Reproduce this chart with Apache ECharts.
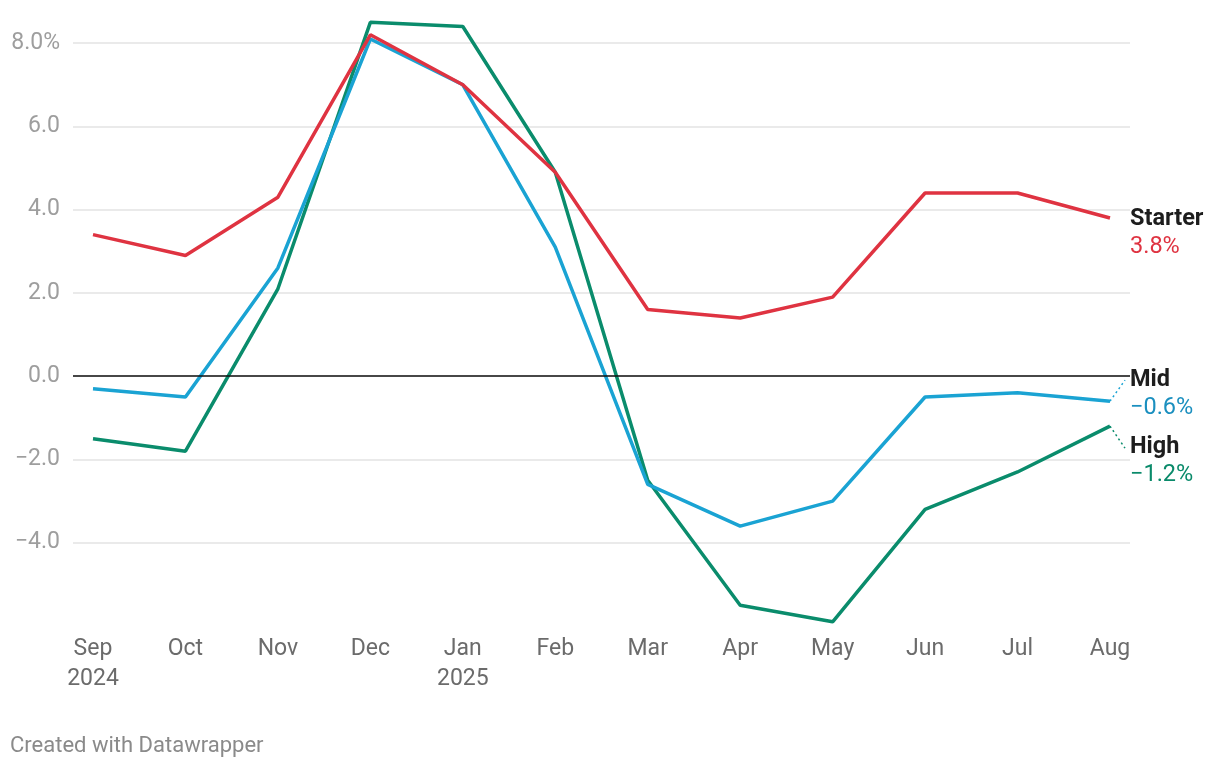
<!DOCTYPE html>
<html>
<head>
<meta charset="utf-8">
<script src="https://cdn.jsdelivr.net/npm/echarts@6/dist/echarts.min.js"></script>
<style>
html,body{margin:0;padding:0;background:#fff;}
#c{width:1220px;height:768px;}
</style>
</head>
<body>
<div id="c"></div>
<script>
var months = ['Sep\n2024','Oct','Nov','Dec','Jan\n2025','Feb','Mar','Apr','May','Jun','Jul','Aug'];
var starter = [3.4, 2.9, 4.3, 8.2, 7.0, 4.9, 1.6, 1.4, 1.9, 4.4, 4.4, 3.8];
var mid     = [-0.3, -0.5, 2.6, 8.1, 7.0, 3.1, -2.6, -3.6, -3.0, -0.5, -0.4, -0.6];
var high    = [-1.5, -1.8, 2.1, 8.5, 8.4, 4.9, -2.5, -5.5, -5.9, -3.2, -2.3, -1.2];
var yTicks  = [-4, -2, 0, 2, 4, 6, 8];

var RED = '#df3341', BLUE = '#1aa3d3', GREEN = '#0a8c6c';
var BLUE_TXT = '#1a8fbf', GREEN_TXT = '#0a8a6a';

function pairs(arr){ return arr.map(function(v,i){ return [i, v]; }); }
function fmt(v){ var s = Math.abs(v).toFixed(1); return (v < 0 ? '\u2212' : '') + s; }

function endLabel(color, dy){
  return {
    show: true,
    distance: 0,
    offset: [20, dy],
    align: 'left',
    formatter: function(p){ return '{n|' + p.seriesName + '}\n{v|' + fmt(p.value[1]) + '%}'; },
    rich: {
      n: {fontFamily: 'Roboto', fontWeight: 'bold', fontSize: 23.5, color: '#1d1d1d', lineHeight: 28},
      v: {fontFamily: 'Roboto', fontSize: 23.5, color: color, lineHeight: 28}
    }
  };
}

var chart = echarts.init(document.getElementById('c'), null, {renderer: 'canvas'});
var option = {
  backgroundColor: '#fff',
  animation: false,
  textStyle: {fontFamily: 'Roboto'},
  grid: {left: 73, right: 90, top: 14, bottom: 142, containLabel: false},
  xAxis: {
    type: 'value',
    min: -0.2163,
    max: 11.2163,
    axisLine: {show: false},
    axisTick: {show: false},
    splitLine: {show: false},
    axisLabel: {
      customValues: months.map(function(m,i){ return i; }),
      formatter: function(v){ return months[Math.round(v)]; },
      color: '#6b6b6b', fontSize: 23, fontFamily: 'Roboto', lineHeight: 30, margin: 8
    }
  },
  yAxis: {
    type: 'value',
    min: -6,
    max: 8.7,
    interval: 2,
    axisLine: {show: false},
    axisTick: {show: false},
    axisLabel: {
      showMinLabel: false,
      showMaxLabel: false,
      color: '#9e9e9e', fontSize: 23, fontFamily: 'Roboto', margin: 13,
      formatter: function(v){
        if (yTicks.indexOf(v) < 0) return '';
        return fmt(v) + (v === 8 ? '%' : '');
      }
    },
    splitLine: {show: true, showMinLine: false, showMaxLine: false, lineStyle: {color: '#e3e3e3', width: 1.5}}
  },
  series: [
    {
      name: 'High', type: 'line', data: pairs(high), symbol: 'none',
      lineStyle: {color: GREEN, width: 3.5}, itemStyle: {color: GREEN},
      endLabel: endLabel(GREEN_TXT, 35), z: 3
    },
    {
      name: 'Mid', type: 'line', data: pairs(mid), symbol: 'none',
      lineStyle: {color: BLUE, width: 3.5}, itemStyle: {color: BLUE},
      endLabel: endLabel(BLUE_TXT, -7), z: 4
    },
    {
      name: 'Starter', type: 'line', data: pairs(starter), symbol: 'none',
      lineStyle: {color: RED, width: 3.5}, itemStyle: {color: RED},
      endLabel: endLabel(RED, 15), z: 5,
      markLine: {
        silent: true, symbol: 'none', label: {show: false},
        lineStyle: {color: '#111', width: 1.5, type: 'solid'},
        data: [{yAxis: 0}]
      }
    }
  ]
};
chart.setOption(option);

// dotted connector lines from last points to their labels
var last = months.length - 1;
var pm = chart.convertToPixel({gridIndex: 0}, [last, mid[last]]);
var ph = chart.convertToPixel({gridIndex: 0}, [last, high[last]]);
chart.setOption({
  graphic: [
    {type: 'line', shape: {x1: pm[0], y1: pm[1], x2: pm[0] + 15, y2: pm[1] - 21},
     style: {stroke: BLUE, lineWidth: 1.5, lineDash: [2, 3]}, z: 10},
    {type: 'line', shape: {x1: ph[0], y1: ph[1], x2: ph[0] + 15, y2: ph[1] + 22},
     style: {stroke: GREEN, lineWidth: 1.5, lineDash: [2, 3]}, z: 10},
    {type: 'text', left: 10, top: 735,
     style: {text: 'Created with Datawrapper', fill: '#8a8a8a', font: '22px Roboto'}}
  ]
});
</script>
</body>
</html>
